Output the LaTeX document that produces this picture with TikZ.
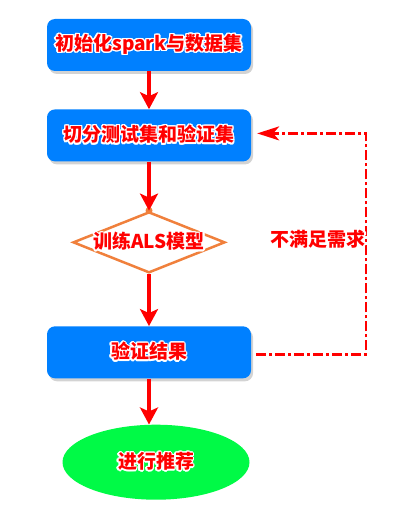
\documentclass[tikz,border=0pt]{standalone}
\usepackage{fontspec}
\usepackage{xcolor}
\usepackage{tikz}
\usepackage{contour}
\usetikzlibrary{positioning, arrows.meta, shapes.geometric, shadows}
\newfontfamily\cjk{Noto Sans CJK SC}
\definecolor{boxblue}{RGB}{0,128,255}
\definecolor{startgreen}{RGB}{0,250,70}
\definecolor{lineorange}{RGB}{240,128,60}
\contourlength{1.4pt}

\begin{document}
\begin{tikzpicture}[
    x=1pt, y=1pt,
    every node/.style={
        font=\cjk\bfseries\fontsize{19}{22}\selectfont,
        text=red
    },
    stepbox/.style={
        fill=boxblue,
        rounded corners=8pt,
        minimum width=204pt,
        minimum height=52pt,
        drop shadow={shadow xshift=2pt, shadow yshift=-3pt, opacity=0.35, fill=gray}
    },
    decision/.style={diamond, draw=lineorange, line width=2.5pt, fill=white,
        minimum width=152pt, minimum height=61pt, inner sep=0pt, aspect=2.5},
    finish/.style={ellipse, fill=startgreen, minimum width=187pt, minimum height=75pt,
        inner sep=0pt},
    arrow/.style={-{Stealth[length=17pt,width=18pt,inset=4pt]}, line width=3.5pt, draw=red},
    feedback/.style={-{Stealth[length=22pt,width=14pt,inset=6pt]}, line width=2.5pt, draw=red,
        dash pattern=on 10pt off 3pt on 3pt off 3pt}
]
\useasboundingbox (0,0) rectangle (417,-508);

% Main steps
\node[stepbox] (init) at (149,-45) {\contour{white}{初始化spark与数据集}};
\node[stepbox, below=38pt of init] (split) {\contour{white}{切分测试集和验证集}};
\node[decision, below=49pt of split,
      label=center:{\contour{white}{训练ALS模型}}] (train) {};
\node[stepbox, below=52pt of train] (check) {\contour{white}{验证结果}};
\node[finish, below=46pt of check, xshift=7pt] (recom) {\contour{white}{进行推荐}};

% Arrows
\draw[arrow] (init) -- (split);
\fill[lineorange] (train.north) circle (3.5pt);
\draw[arrow] (split) -- (train);
\draw[arrow] (train) -- (check);
\draw[arrow] (check.south) -- (check.south |- recom.north);

% Back loop
\draw[feedback] ([xshift=5pt,yshift=-2pt]check.east) -- ++(110,0)
    |- node[pos=0.25, anchor=east, inner sep=0pt, xshift=1pt, yshift=4pt] (note)
       {\contour{white}{不满足需求}}
    ([xshift=6pt,yshift=2pt]split.east);

\end{tikzpicture}
\end{document}
